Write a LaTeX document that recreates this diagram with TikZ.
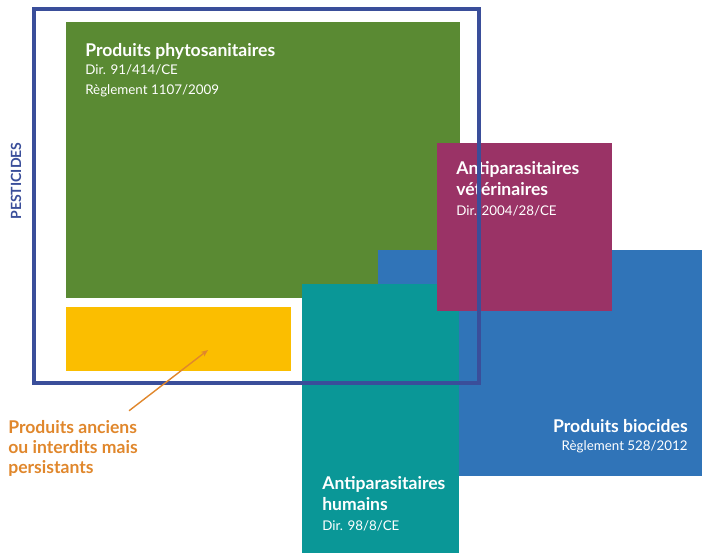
\documentclass[tikz,border=0pt]{standalone}
\usepackage{fontspec}
\setmainfont{Lato}
\usetikzlibrary{arrows.meta,positioning}
\definecolor{phytogreen}{HTML}{5A8A33}
\definecolor{oldyellow}{HTML}{FBBE00}
\definecolor{biocideblue}{HTML}{3074B8}
\definecolor{humanteal}{HTML}{0A9797}
\definecolor{vetpurple}{HTML}{9A3366}
\definecolor{pestblue}{HTML}{3A4E9A}
\definecolor{oldorange}{HTML}{E0872C}
\newcommand{\subtxt}[1]{{\mdseries\fontsize{9.5}{11}\selectfont #1}}

\begin{document}
\begin{tikzpicture}[x=0.025cm,y=-0.025cm,
  boxtitle/.style={text=white,align=left,inner sep=0pt,font=\fontsize{12.5}{14}\selectfont\bfseries}]
  \useasboundingbox (0,0) rectangle (702,553);

  % coloured blocks
  \fill[phytogreen] (66,22) rectangle (460,298);
  \fill[oldyellow] (66,307) rectangle (291,371);
  \fill[biocideblue] (378,250) rectangle (702,476);
  \fill[humanteal] (302,284) rectangle (459,553);
  \fill[vetpurple] (437,143) rectangle (612,311);

  % block labels (anchored on the baseline of the last line)
  \node[boxtitle,anchor=base west] (phyto) at (85,94)
    {Produits phytosanitaires\\[-1.5pt]\subtxt{Dir. 91/414/CE}\\\subtxt{Règlement 1107/2009}};
  \node[boxtitle,anchor=base west] (vet) at (456,215)
    {Antiparasitaires\\[1pt]vétérinaires\\\subtxt{Dir. 2004/28/CE}};
  \node[boxtitle,anchor=base west] (human) at (322,530)
    {Antiparasitaires\\[1pt]humains\\\subtxt{Dir. 98/8/CE}};
  \node[boxtitle,align=right,anchor=base east] (biocide) at (688,450)
    {Produits biocides\\[-1.5pt]\subtxt{Règlement 528/2012}};

  % pesticides frame
  \draw[pestblue,line width=2.2pt] (34,9) rectangle (479,383);
  \node[rotate=90,text=pestblue,inner sep=0pt,font=\fontsize{10}{13}\selectfont\bfseries] (pest) at (16,181) {PESTICIDES};

  % old products
  \node[anchor=base west,text=oldorange,align=left,inner sep=0pt,font=\fontsize{12.5}{14.2}\selectfont\bfseries] (old) at (8,473)
    {Produits anciens\\ou interdits mais\\persistants};
  \coordinate (oldtip) at (208,350);
  \draw[oldorange,line width=1pt,-{Stealth[length=5pt,width=4pt]}] ([shift={(-9,-9)}]old.north east) -- (oldtip);
\end{tikzpicture}
\end{document}
